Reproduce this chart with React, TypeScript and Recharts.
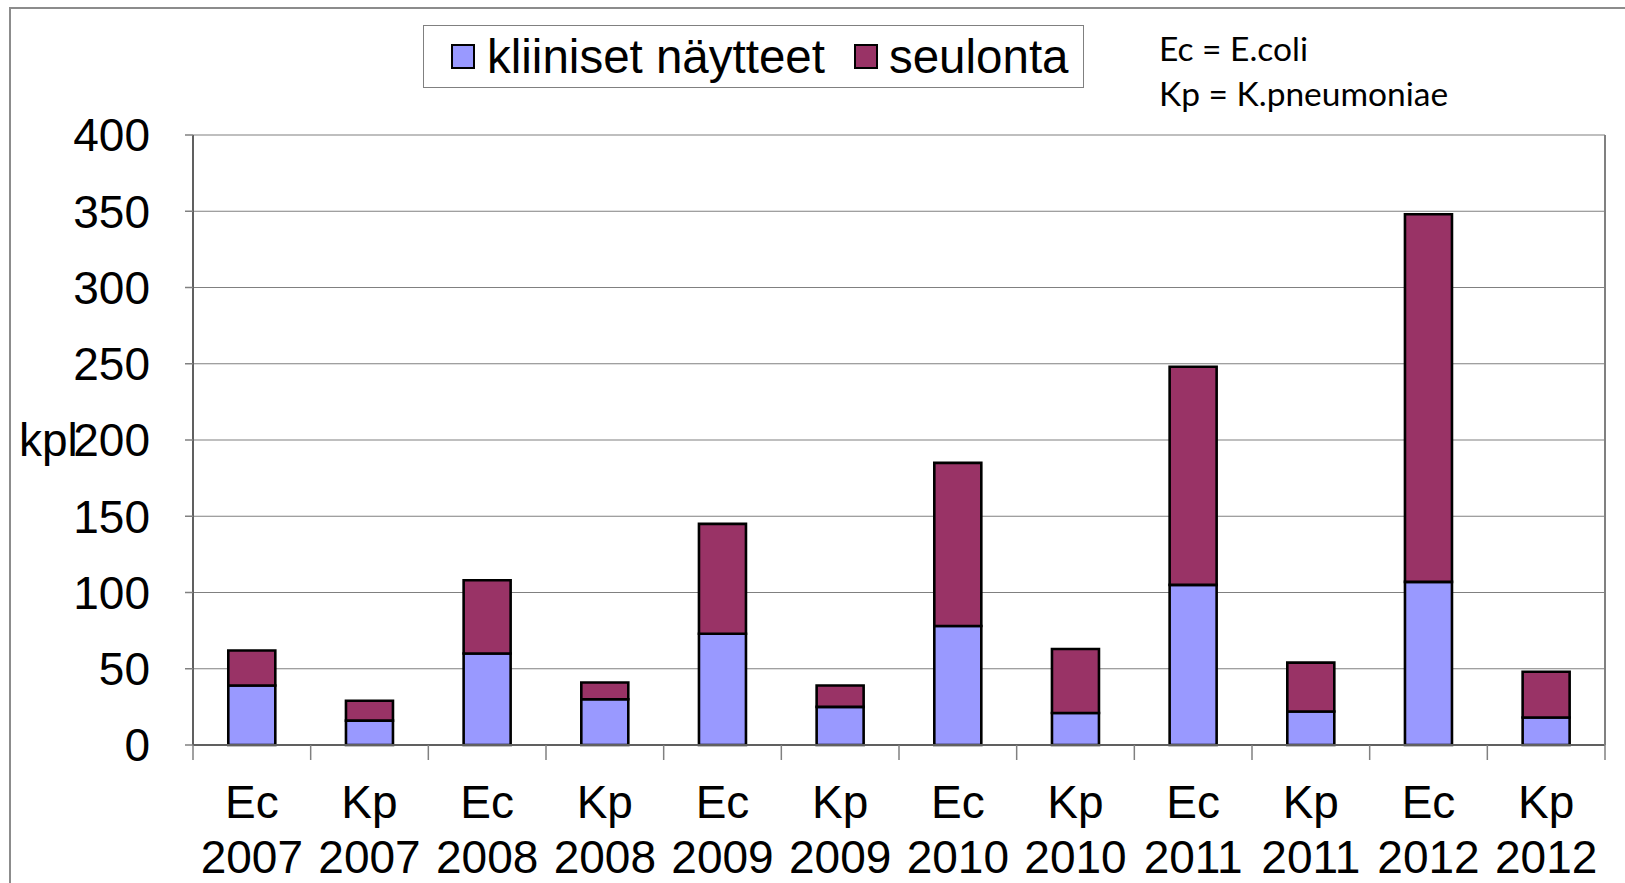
import React from 'react';
import { BarChart, Bar, XAxis, YAxis, CartesianGrid, Legend } from 'recharts';

const categories = [
    'Ec 2007', 'Kp 2007', 'Ec 2008', 'Kp 2008', 'Ec 2009', 'Kp 2009',
    'Ec 2010', 'Kp 2010', 'Ec 2011', 'Kp 2011', 'Ec 2012', 'Kp 2012',
];
// kliiniset näytteet (bottom segment)
const kliiniset = [39, 16, 60, 30, 73, 25, 78, 21, 105, 22, 107, 18];
// seulonta (stacked on top)
const seulonta = [23, 13, 48, 11, 72, 14, 107, 42, 143, 32, 241, 30];
const yTicks = [0, 50, 100, 150, 200, 250, 300, 350, 400];

const data = categories.map((name, i) => ({
    name,
    kliiniset: kliiniset[i],
    seulonta: seulonta[i],
}));

const W = 1625;
const H = 883;
const LEFT = 193;
const RIGHT_W = 20;
const TOP = 135;
const X_AXIS_H = 138;
const PLOT_W = W - LEFT - RIGHT_W;
const BAND = PLOT_W / categories.length;

const FONT = '"Liberation Sans", Arial, sans-serif';
const BLUE = '#9999FF';
const MAROON = '#993366';
const GRID = '#808080';

const XTick = (props: any) => {
    const { x, y, payload, index } = props;
    const [abbr, year] = String(payload.value).split(' ');
    const left = x - BAND / 2;
    return (
        <g>
            <line x1={left} x2={left} y1={y} y2={y + 15} stroke={GRID} strokeWidth={1.5} />
            {index === categories.length - 1 && (
                <line x1={left + BAND} x2={left + BAND} y1={y} y2={y + 15} stroke={GRID} strokeWidth={1.5} />
            )}
            <text x={x} y={y + 73} textAnchor="middle" fontSize={46} fontFamily={FONT} fill="#000">{abbr}</text>
            <text x={x} y={y + 128} textAnchor="middle" fontSize={46} fontFamily={FONT} fill="#000">{year}</text>
        </g>
    );
};

const LegendBox = () => (
    <div style={{
        boxSizing: 'border-box', width: '100%', height: '100%', background: '#fff',
        border: '1.5px solid #808080', display: 'flex', alignItems: 'center', paddingLeft: 27,
        fontFamily: FONT, fontSize: 47.5, color: '#000', whiteSpace: 'nowrap',
    }}>
        <span style={{ boxSizing: 'border-box', width: 24, height: 25, background: BLUE, border: '2.5px solid #000', marginRight: 12 }} />
        <span style={{ marginRight: 29 }}>kliiniset näytteet</span>
        <span style={{ boxSizing: 'border-box', width: 24, height: 25, background: MAROON, border: '2.5px solid #000', marginRight: 11 }} />
        <span>seulonta</span>
    </div>
);

const App: React.FC = () => {
    return (
        <div style={{ position: 'absolute', left: 0, top: 0, width: W, height: H, background: '#fff' }}>
            {/* outer frame, only left and top edges are in view */}
            <div style={{ position: 'absolute', left: 9, top: 7, right: 0, bottom: 0, borderLeft: '2px solid #8c8c8c', borderTop: '2px solid #8c8c8c' }} />
            <BarChart
                width={W}
                height={H}
                data={data}
                margin={{ top: TOP, right: 0, bottom: 0, left: 0 }}
                barCategoryGap="30%"
            >
                <CartesianGrid vertical={false} stroke={GRID} strokeWidth={1.2} />
                <XAxis
                    dataKey="name"
                    height={X_AXIS_H}
                    interval={0}
                    tickLine={false}
                    tickSize={0}
                    tickMargin={0}
                    axisLine={{ stroke: '#606060', strokeWidth: 2 }}
                    tick={<XTick />}
                />
                <YAxis
                    width={LEFT}
                    domain={[0, 400]}
                    ticks={yTicks}
                    interval={0}
                    tickSize={8}
                    tickMargin={35}
                    tickLine={{ stroke: GRID, strokeWidth: 1.5 }}
                    axisLine={{ stroke: '#606060', strokeWidth: 2 }}
                    tick={{ fill: '#000', fontSize: 46, fontFamily: FONT }}
                    label={{ value: 'kpl', position: 'insideLeft', offset: 19, fill: '#000', fontSize: 46, fontFamily: FONT }}
                />
                <YAxis
                    yAxisId="r"
                    orientation="right"
                    width={RIGHT_W}
                    domain={[0, 400]}
                    tick={false}
                    tickLine={false}
                    axisLine={{ stroke: GRID, strokeWidth: 2 }}
                />
                <Legend
                    verticalAlign="middle"
                    align="center"
                    layout="horizontal"
                    content={() => <LegendBox />}
                    wrapperStyle={{ left: 423, top: 25, width: 661, height: 63 }}
                />
                <Bar dataKey="kliiniset" name="kliiniset näytteet" stackId="a" fill={BLUE} stroke="#000" strokeWidth={2.6} isAnimationActive={false} />
                <Bar dataKey="seulonta" name="seulonta" stackId="a" fill={MAROON} stroke="#000" strokeWidth={2.6} isAnimationActive={false} />
            </BarChart>
            <div style={{ position: 'absolute', left: 1159, top: 26, fontFamily: 'Lato, "Open Sans", sans-serif', fontSize: 33.5, lineHeight: '45px', color: '#000' }}>
                <div>Ec = E.coli</div>
                <div>Kp = K.pneumoniae</div>
            </div>
        </div>
    );
};

export default App;
